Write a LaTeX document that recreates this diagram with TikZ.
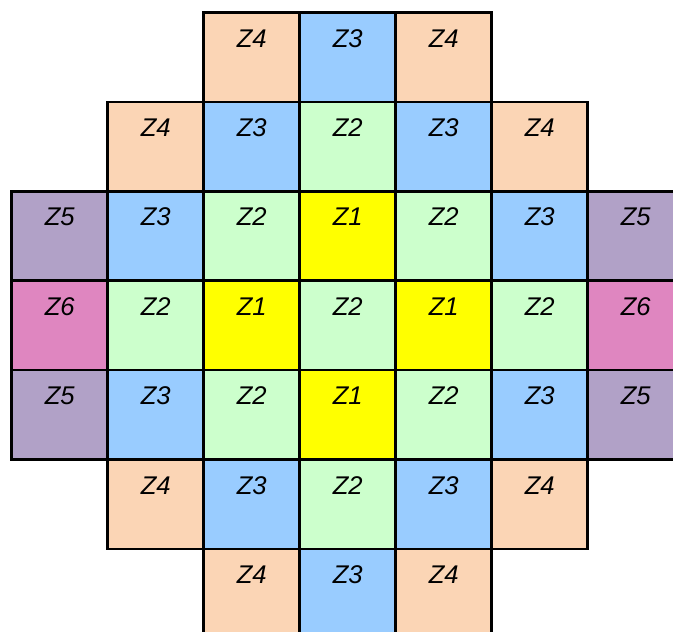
\documentclass[tikz,border=0pt]{standalone}
\usepackage{fontspec}
\setmainfont{Liberation Sans}
\definecolor{zone1}{HTML}{FFFF00}
\definecolor{zone2}{HTML}{CCFFCC}
\definecolor{zone3}{HTML}{99CCFF}
\definecolor{zone4}{HTML}{FBD5B5}
\definecolor{zone5}{HTML}{B1A1C7}
\definecolor{zone6}{HTML}{DF86C0}
\tikzset{
  cellbox/.style={draw=black, line width=2.6pt, rectangle, minimum width=96pt, minimum height=89.4pt, inner sep=0pt, outer sep=0pt},
  celltext/.style={anchor=base, inner sep=0pt, font=\fontsize{25.6}{30}\selectfont\itshape}
}
\begin{document}
\begin{tikzpicture}[x=1pt,y=1pt]
\useasboundingbox (0,0) rectangle (673,-632);
\clip (0,0) rectangle (673,-632);
\foreach \r/\c/\z in {
  0/2/4,0/3/3,0/4/4,
  1/1/4,1/2/3,1/3/2,1/4/3,1/5/4,
  2/0/5,2/1/3,2/2/2,2/3/1,2/4/2,2/5/3,2/6/5,
  3/0/6,3/1/2,3/2/1,3/3/2,3/4/1,3/5/2,3/6/6,
  4/0/5,4/1/3,4/2/2,4/3/1,4/4/2,4/5/3,4/6/5,
  5/1/4,5/2/3,5/3/2,5/4/3,5/5/4,
  6/2/4,6/3/3,6/4/4}{
  \node[cellbox, fill=zone\z] (cell-\r-\c) at ({11.7+48+96*\c}, {-(12.5+44.7+89.4*\r)}) {};
  \node[celltext] (txt-\r-\c) at ([yshift=-34.5pt]cell-\r-\c.north) {Z\z};
}
\end{tikzpicture}
\end{document}
